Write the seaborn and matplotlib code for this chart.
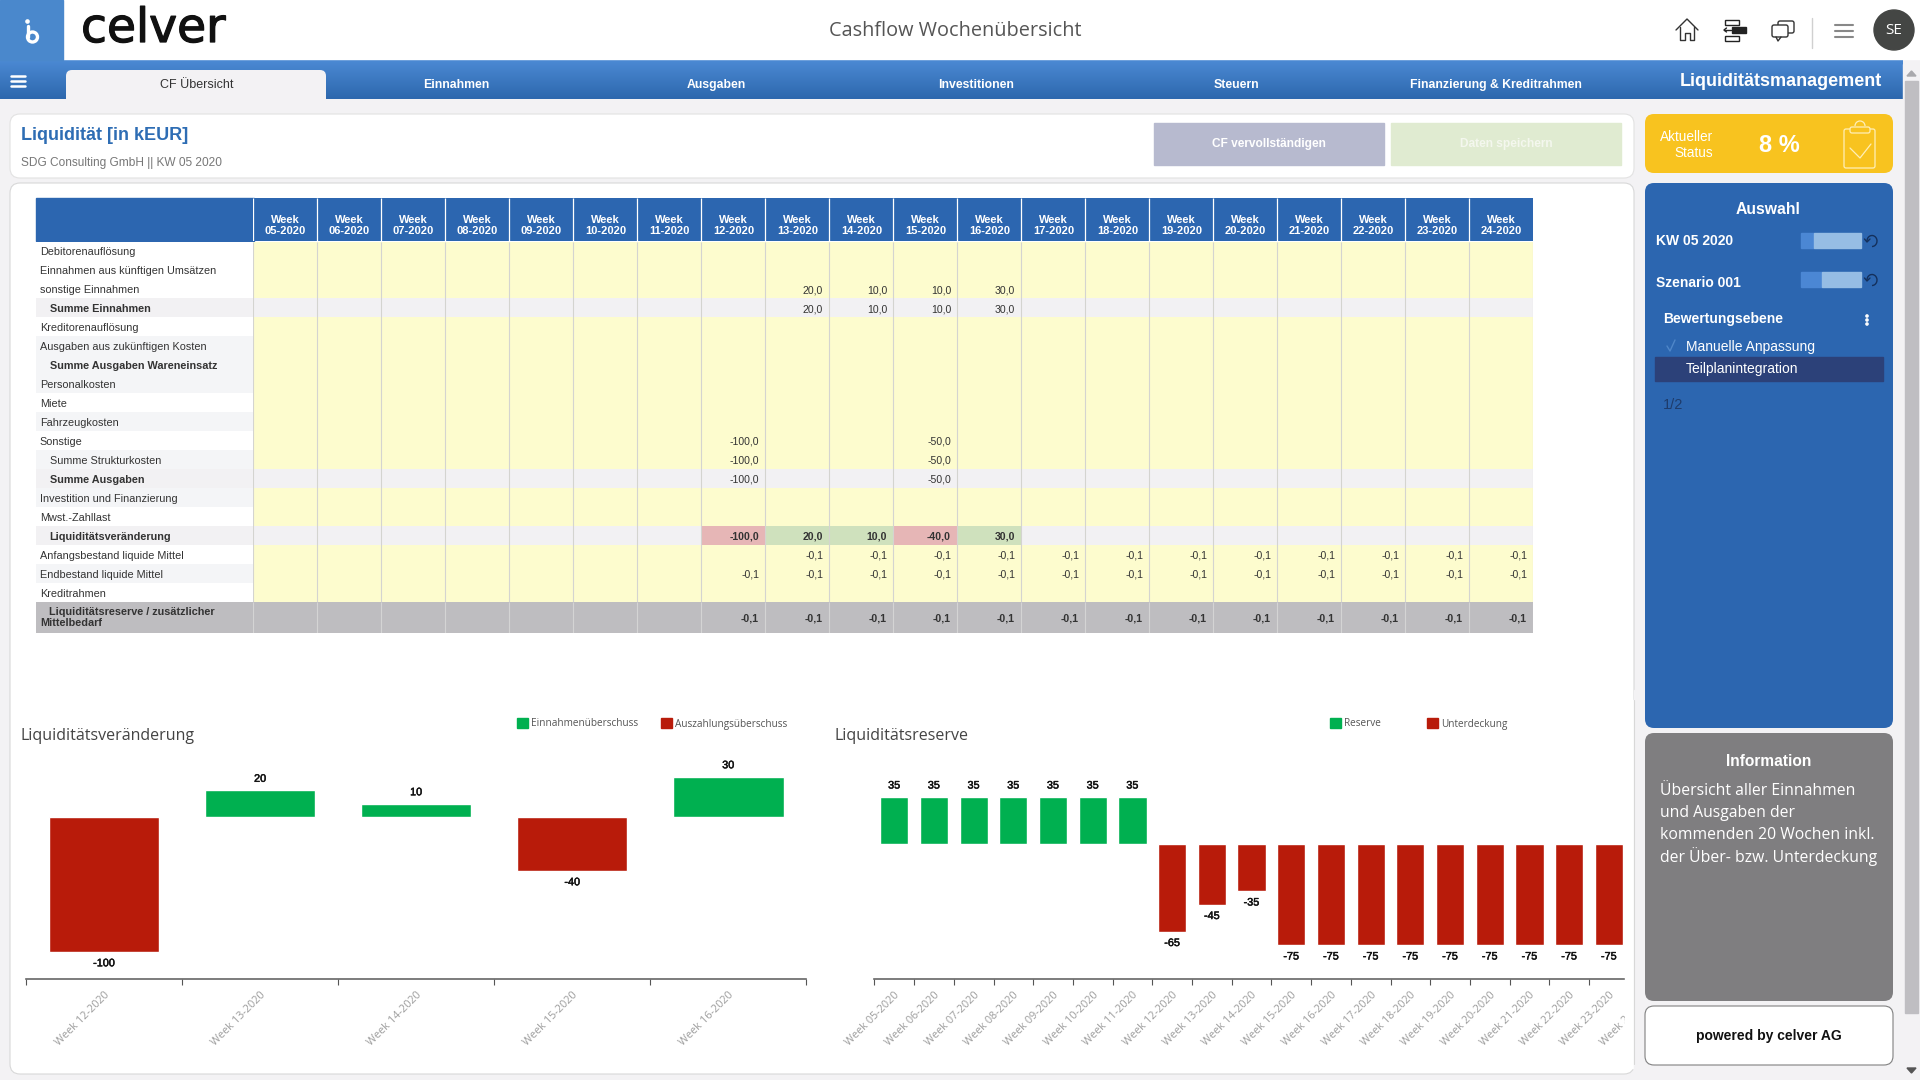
import numpy as np
import pandas as pd
import matplotlib
matplotlib.use('Agg')
import matplotlib.pyplot as plt
import matplotlib.patheffects as pe
import seaborn as sns
from matplotlib.colors import ListedColormap, LinearSegmentedColormap
from matplotlib.patches import Rectangle, FancyBboxPatch, Circle, Arc, Patch

W, H = 1920, 1080

wochen = ['05-2020', '06-2020', '07-2020', '08-2020', '09-2020', '10-2020', '11-2020', '12-2020', '13-2020', '14-2020',
          '15-2020', '16-2020', '17-2020', '18-2020', '19-2020', '20-2020', '21-2020', '22-2020', '23-2020', '24-2020']

zeilen = ['Debitorenauflösung', 'Einnahmen aus künftigen Umsätzen', 'sonstige Einnahmen', 'Summe Einnahmen',
          'Kreditorenauflösung', 'Ausgaben aus zukünftigen Kosten', 'Summe Ausgaben Wareneinsatz', 'Personalkosten',
          'Miete', 'Fahrzeugkosten', 'Sonstige', 'Summe Strukturkosten', 'Summe Ausgaben',
          'Investition und Finanzierung', 'Mwst.-Zahllast', 'Liquiditätsveränderung', 'Anfangsbestand liquide Mittel',
          'Endbestand liquide Mittel', 'Kreditrahmen']
# 0 = weiss, 1 = hell, 2 = grau
zeilen_hintergrund = [0, 0, 0, 2, 0, 1, 1, 1, 0, 1, 0, 1, 2, 1, 0, 2, 0, 1, 0]
zeilen_einzug = [3, 6, 11, 12, 15]
zeilen_fett = [3, 6, 12, 15]
zeilen_grau = [3, 12, 15]

_ = None
sonstige_einnahmen = [_, _, _, _, _, _, _, _, 20.0, 10.0, 10.0, 30.0, _, _, _, _, _, _, _, _]
summe_einnahmen = [_, _, _, _, _, _, _, _, 20.0, 10.0, 10.0, 30.0, _, _, _, _, _, _, _, _]
sonstige = [_, _, _, _, _, _, _, -100.0, _, _, -50.0, _, _, _, _, _, _, _, _, _]
summe_struktur = [_, _, _, _, _, _, _, -100.0, _, _, -50.0, _, _, _, _, _, _, _, _, _]
summe_ausgaben = [_, _, _, _, _, _, _, -100.0, _, _, -50.0, _, _, _, _, _, _, _, _, _]
liq_veraenderung = [_, _, _, _, _, _, _, -100.0, 20.0, 10.0, -40.0, 30.0, _, _, _, _, _, _, _, _]
anfangsbestand = [_, _, _, _, _, _, _, _, -0.1, -0.1, -0.1, -0.1, -0.1, -0.1, -0.1, -0.1, -0.1, -0.1, -0.1, -0.1]
endbestand = [_, _, _, _, _, _, _, -0.1, -0.1, -0.1, -0.1, -0.1, -0.1, -0.1, -0.1, -0.1, -0.1, -0.1, -0.1, -0.1]
liq_reserve = [_, _, _, _, _, _, _, -0.1, -0.1, -0.1, -0.1, -0.1, -0.1, -0.1, -0.1, -0.1, -0.1, -0.1, -0.1, -0.1]
zeilen_werte = {2: sonstige_einnahmen, 3: summe_einnahmen, 10: sonstige, 11: summe_struktur, 12: summe_ausgaben,
                15: liq_veraenderung, 16: anfangsbestand, 17: endbestand}

veraenderung_wochen = ['Week 12-2020', 'Week 13-2020', 'Week 14-2020', 'Week 15-2020', 'Week 16-2020']
veraenderung_werte = [-100, 20, 10, -40, 30]

reserve_wochen = ['Week ' + w for w in wochen]
reserve_werte = [35, 35, 35, 35, 35, 35, 35, -65, -45, -35, -75, -75, -75, -75, -75, -75, -75, -75, -75, -75]

GREEN = '#00B050'
RED = '#B81B0A'
BLUE = '#2C66B0'
PAGE = '#F3F2F4'
YELLOW = '#FDFCCE'
SUM_GREY = '#F2F1F3'
LAST_GREY = '#BEBDC0'

sns.set_theme(style='white')
plt.rcParams['font.family'] = ['Liberation Sans', 'DejaVu Sans']

fig = plt.figure(figsize=(W / 100, H / 100), dpi=100, facecolor=PAGE)


def px_axes(x0, y0, x1, y1, **kw):
    return fig.add_axes([x0 / W, 1 - y1 / H, (x1 - x0) / W, (y1 - y0) / H], **kw)


def rounded(ax, x0, y0, x1, y1, color, r=8, **kw):
    ax.add_patch(FancyBboxPatch((x0 + r, y0 + r), x1 - x0 - 2 * r, y1 - y0 - 2 * r,
                                boxstyle='round,pad=%d,rounding_size=%d' % (r, r),
                                facecolor=color, edgecolor=kw.pop('edgecolor', 'none'), **kw))


def line(ax, pts, color='#333333', lw=1.0):
    ax.plot([p[0] for p in pts], [p[1] for p in pts], color=color, lw=lw, solid_capstyle='round')


def label(ax, x, y, s, color='white', size=9, ha='left', **kw):
    # matplotlib centres on the full line box, browser text sits a little lower
    ax.text(x, y + 1.3, s, color=color, fontsize=size, ha=ha, va='center', **kw)


# background layer
bg = px_axes(0, 0, W, H, zorder=0)
bg.set_axis_off()
bg.add_patch(Rectangle((0, 0), W, 59, color='white'))
grad = LinearSegmentedColormap.from_list('tab', ['#4C8AD4', '#2D68AE'])
bg.imshow(np.linspace(0, 1, 40).reshape(-1, 1), cmap=grad, aspect='auto', extent=(0, 1903, 99, 59))
bg.add_patch(Rectangle((0, 0), 63, 60, color='#4A88CC'))
bg.set_xlim(0, W)
bg.set_ylim(H, 0)

# logo
bg.add_patch(Circle((27.5, 21.5), 1.6, color='white'))
line(bg, [(27.5, 26), (27.5, 37)], 'white', 2.4)
bg.add_patch(Circle((32.5, 37), 5, fill=False, edgecolor='white', lw=2.4))
logo = bg.text(81, 42, 'celver', color='#111111', fontsize=34, family='DejaVu Sans', ha='left', va='baseline')
logo.set_path_effects([pe.withStroke(linewidth=0.9, foreground='#111111')])
label(bg, 955, 29.5, 'Cashflow Wochenübersicht', '#555555', 14.3, 'center', family='Open Sans')

# header icons
line(bg, [(1676, 30), (1687, 19), (1698, 30)])
line(bg, [(1680, 27), (1680, 40), (1684.5, 40), (1684.5, 33), (1689.5, 33), (1689.5, 40), (1694, 40), (1694, 27)])
bg.add_patch(Rectangle((1725, 19.5), 14, 5, fill=False, edgecolor='#222222', lw=1))
bg.add_patch(Rectangle((1725, 35.5), 14, 5, fill=False, edgecolor='#222222', lw=1))
bg.add_patch(Rectangle((1732, 27), 14, 6, color='#222222'))
line(bg, [(1724, 30), (1731, 30)], '#222222')
line(bg, [(1726.5, 28), (1724, 30), (1726.5, 32)], '#222222')
rounded(bg, 1778, 21, 1794, 33, 'white', r=2, edgecolor='#333333', lw=1)
rounded(bg, 1772, 25, 1788, 37, 'white', r=2, edgecolor='#333333', lw=1)
line(bg, [(1776, 37), (1778, 41), (1781, 37)], '#333333')
line(bg, [(1812, 18), (1812, 48)], '#D0D0D0')
for y in [25, 31, 37]:
    line(bg, [(1835, y), (1853, y)], '#888888', 1.5)
bg.add_patch(Circle((1894, 30), 20, color='#444644'))
label(bg, 1894, 29.5, 'SE', 'white', 11, 'center', family='Open Sans')

# tab bar
for y in [76, 81, 86]:
    line(bg, [(11, y), (25, y)], 'white', 1.8)
rounded(bg, 66, 70, 326, 106, PAGE, r=6)
label(bg, 197, 84, 'CF Übersicht', '#333333', 9, 'center')
for x, t in [(456, 'Einnahmen'), (716, 'Ausgaben'), (976, 'Investitionen'), (1236, 'Steuern'),
             (1496, 'Finanzierung & Kreditrahmen')]:
    label(bg, x, 84, t, 'white', 8.8, 'center', fontweight='bold')
label(bg, 1781, 80.5, 'Liquiditätsmanagement', 'white', 13, 'center', fontweight='bold')

# scrollbar
bg.add_patch(Rectangle((1903, 64), 17, 1016, color='#F3F2F4'))
bg.add_patch(Rectangle((1905, 81), 13, 932, color='#BFBEC2'))
bg.fill([1907, 1916, 1911.5], [76, 76, 71], color='#A9A9AD')
bg.fill([1907, 1916, 1911.5], [1068, 1068, 1073], color='#555555')

# title panel
rounded(bg, 10, 114, 1634, 178, 'white', r=10, edgecolor='#E2E2E2', lw=0.8)
label(bg, 21, 134.5, 'Liquidität [in kEUR]', '#2E6DB4', 13, fontweight='bold')
label(bg, 21, 162, 'SDG Consulting GmbH || KW 05 2020', '#777777', 8.6)
bg.add_patch(Rectangle((1154, 123), 229.5, 42, color='#B7BACF'))
bg.add_patch(Rectangle((1391, 123), 229.5, 42, color='#E0EBD1'))
label(bg, 1269, 143, 'CF vervollständigen', 'white', 8.6, 'center', fontweight='bold')
label(bg, 1506, 143, 'Daten speichern', '#F4F7EE', 8.6, 'center', fontweight='bold')

# main panel
rounded(bg, 10, 183, 1634, 1074, 'white', r=10, edgecolor='#D8D8D8', lw=0.8)
bg.add_patch(Rectangle((35.5, 198), 218, 43, color=BLUE))
label(bg, 20.5, 734.5, 'Liquiditätsveränderung', '#444444', 11.5, family='Open Sans')
label(bg, 834, 734.5, 'Liquiditätsreserve', '#444444', 11.5, family='Open Sans')


def draw_cells(rect, codes, colors, annots=None, text_color='#333333', size=8, **kw):
    # one block of table cells, drawn as a heatmap
    ax = px_axes(*rect, zorder=1)
    ax.set_facecolor('none')
    sns.heatmap(codes, ax=ax, cmap=ListedColormap(colors), vmin=0, vmax=len(colors) - 1, cbar=False,
                annot=annots if annots is not None else False, fmt='', xticklabels=False, yticklabels=False,
                linewidths=0, annot_kws={'color': text_color, 'fontsize': size, **kw})
    return ax


def de_format(v):
    return '' if v is None else ('%.1f' % v).replace('.', ',')


n_rows, n_cols = len(zeilen), len(wochen)

# week header
header = draw_cells((253.5, 198, 1533.5, 241), np.zeros((1, n_cols)), [BLUE, BLUE],
                    np.array([['Week\n' + w for w in wochen]]), text_color='white', size=8, fontweight='bold',
                    linespacing=1.05)
header.vlines(np.arange(n_cols), 0, 1, color='white', lw=0.9)
for t in header.texts:
    t.set_y(0.64)

# row labels
label_codes = np.array(zeilen_hintergrund).reshape(-1, 1)
label_text = np.array(zeilen).reshape(-1, 1)
labels = draw_cells((35.5, 241.5, 253.5, 602), label_codes, ['#FFFFFF', '#F4F5F7', SUM_GREY], label_text, size=7.8)
for t in labels.texts:
    row = int(t.get_position()[1])
    t.set_ha('left')
    t.set_x(0.02 + (0.045 if row in zeilen_einzug else 0))
    t.set_y(row + 0.56)
    if row in zeilen_fett:
        t.set_fontweight('bold')

# table body
codes = np.zeros((n_rows, n_cols))
codes[zeilen_grau, :] = 1
for c, v in enumerate(liq_veraenderung):
    if v is not None:
        codes[15, c] = 2 if v < 0 else 3
annots = np.full((n_rows, n_cols), '', dtype=object)
for r, werte in zeilen_werte.items():
    annots[r, :] = [de_format(v) for v in werte]
body = draw_cells((253.5, 241.5, 1533.5, 602), codes, [YELLOW, SUM_GREY, '#E6B6B6', '#CFE1BD'], annots, size=7.6)
body.vlines(np.arange(n_cols + 1), 0, n_rows, color='#D4D4D0', lw=0.8)
for t in body.texts:
    row = int(t.get_position()[1])
    t.set_ha('right')
    t.set_x(t.get_position()[0] + 0.40)
    t.set_y(row + 0.56)
    if row in (3, 12, 15):
        t.set_fontweight('bold' if row == 15 else 'medium')

# last row
last_label = draw_cells((35.5, 602, 253.5, 633), np.zeros((1, 1)), [LAST_GREY, LAST_GREY],
                        np.array([['   Liquiditätsreserve / zusätzlicher\nMittelbedarf']]), size=7.8,
                        fontweight='bold', linespacing=1.1)
last_label.texts[0].set_ha('left')
last_label.texts[0].set_x(0.02)
last = draw_cells((253.5, 602, 1533.5, 633), np.zeros((1, n_cols)), [LAST_GREY, LAST_GREY],
                  np.array([[de_format(v) for v in liq_reserve]]), size=7.6, fontweight='bold')
last.vlines(np.arange(n_cols + 1), 0, 1, color='#D4D4D4', lw=0.8)
for t in last.texts:
    t.set_ha('right')
    t.set_x(t.get_position()[0] + 0.40)
    t.set_y(0.54)


def bar_chart(rect, weeks, values, ylim, pos_name, neg_name, legend_at, col_space, bar_width):
    ax = px_axes(*rect, zorder=1)
    ax.set_facecolor('none')
    df = pd.DataFrame({'woche': weeks, 'wert': values})
    df['typ'] = np.where(df['wert'] >= 0, pos_name, neg_name)
    sns.barplot(data=df, x='woche', y='wert', hue='typ', hue_order=[pos_name, neg_name],
                palette={pos_name: GREEN, neg_name: RED}, dodge=False, width=bar_width, saturation=1,
                legend=False, ax=ax)
    for c in ax.containers:
        texts = ax.bar_label(c, fmt='{:.0f}', padding=4.5, fontsize=7.8, color='#111111')
        for t in texts:
            t.set_path_effects([pe.withStroke(linewidth=0.35, foreground='#111111')])
    ax.set_ylim(*ylim)
    ax.set_xlabel('')
    ax.set_ylabel('')
    ax.set_yticks([])
    ax.set_xticks(range(len(weeks)), weeks, rotation=45, ha='right', va='top', rotation_mode='anchor',
                  color='#9C9C9C', fontsize=7.8, family='Open Sans')
    ax.set_xticks(np.arange(len(weeks) + 1) - 0.5, minor=True)
    ax.tick_params(axis='x', which='major', length=0, pad=7.5)
    ax.tick_params(axis='x', which='minor', length=4, width=0.8, color='#555555', bottom=True)
    sns.despine(ax=ax, left=True)
    ax.spines['bottom'].set_color('#666666')
    ax.spines['bottom'].set_linewidth(1.2)
    ax.legend(handles=[Patch(color=GREEN), Patch(color=RED)], labels=[pos_name, neg_name], ncol=2,
              loc='lower left', bbox_to_anchor=legend_at, bbox_transform=bg.transData, frameon=False,
              prop={'family': 'Open Sans', 'size': 7.2}, labelcolor='#555555', handlelength=1.05, handleheight=1.05,
              handletextpad=0.35, columnspacing=col_space, borderpad=0, borderaxespad=0)
    return ax


# 1.35 px per value unit in both charts
bar_chart((26, 979.3 - 1.35 * 170, 806.3, 979.3), veraenderung_wochen, veraenderung_werte, (-120.2, 49.8),
          'Einnahmenüberschuss', 'Auszahlungsüberschuss', (517, 729.5), 2.3, 0.708)
bar_chart((874.4, 979.3 - 1.35 * 150, 1668.4, 979.3), reserve_wochen, reserve_werte, (-100.2, 49.8),
          'Reserve', 'Unterdeckung', (1330, 729.5), 4.65, 0.708)

# top layer: right gutter and sidebar, covers what runs past the panel
top = px_axes(0, 0, W, H, zorder=5)
top.set_axis_off()
top.patch.set_alpha(0)
top.add_patch(Rectangle((1625, 700), 8, 368, color='white'))
top.add_patch(Rectangle((1633.5, 690), 40, 390, color=PAGE))
line(top, [(1633.6, 700), (1633.6, 1064)], '#D8D8D8', 0.8)

# status card
rounded(top, 1645, 114, 1893, 173, '#F8C31F', r=9)
label(top, 1713, 136, 'Aktueller', 'white', 9.8, 'right')
label(top, 1713, 152, 'Status', 'white', 9.8, 'right')
label(top, 1779, 144, '8 %', 'white', 17, 'center', fontweight='bold')
rounded(top, 1844, 129, 1875, 168, '#F8C31F', r=2, edgecolor='#FFEFB8', lw=0.9)
rounded(top, 1850, 127, 1870, 133, '#F8C31F', r=2, edgecolor='#FFEFB8', lw=0.9)
top.add_patch(Arc((1860, 126), 10, 10, theta1=180, theta2=360, edgecolor='#FFEFB8', lw=0.9))
line(top, [(1850, 148), (1860, 158), (1871, 144)], '#FFEFB8', 0.9)

# Auswahl card
rounded(top, 1645, 183, 1893, 728, BLUE, r=9)
label(top, 1768, 208.5, 'Auswahl', 'white', 11.3, 'center', fontweight='bold')
for y, name, split in [(240, 'KW 05 2020', 1813.5), (282, 'Szenario 001', 1821.5)]:
    label(top, 1656, y - 0.5, name, 'white', 10, fontweight='bold')
    y0 = y - 7 if y == 240 else y - 10
    top.add_patch(Rectangle((1801, y0), split - 1801, 15, color='#4B87D4'))
    top.add_patch(Rectangle((split, y0), 1861 - split, 15, color='#96BDE4'))
    top.add_patch(Arc((1872, y0 + 8), 10, 11, theta1=180, theta2=450, edgecolor='#14305C', lw=1))
    line(top, [(1864.5, y0 + 6), (1867, y0 + 9), (1870, y0 + 6)], '#14305C', 1)
label(top, 1663, 317.5, 'Bewertungsebene', 'white', 10, fontweight='bold')
for y in [316, 320, 324]:
    top.add_patch(Circle((1867, y), 1.1, color='white'))
line(top, [(1667, 346), (1670, 351), (1675, 340)], '#4F86C8', 1)
label(top, 1686, 346, 'Manuelle Anpassung', 'white', 10)
top.add_patch(Rectangle((1655, 357), 228, 24, color='#2C4179'))
label(top, 1686, 368, 'Teilplanintegration', 'white', 10)
label(top, 1663, 404, '1/2', '#1E3C6C', 10.5)

# Information card
rounded(top, 1645, 733, 1893, 1001, '#7F7E80', r=9)
label(top, 1768.5, 760, 'Information', 'white', 11.2, 'center', fontweight='bold')
info_lines = ['Übersicht aller Einnahmen', 'und Ausgaben der', 'kommenden 20 Wochen inkl.', 'der Über- bzw. Unterdeckung']
for i, t in enumerate(info_lines):
    label(top, 1660, 790 + i * 21.9, t, 'white', 11.35, family='Open Sans')

rounded(top, 1645, 1006, 1893, 1065, 'white', r=9, edgecolor='#808080', lw=0.8)
label(top, 1769, 1035, 'powered by celver AG', '#111111', 10, 'center', fontweight='bold')
top.set_xlim(0, W)
top.set_ylim(H, 0)

fig.savefig('out.png', dpi=100, facecolor=PAGE)
